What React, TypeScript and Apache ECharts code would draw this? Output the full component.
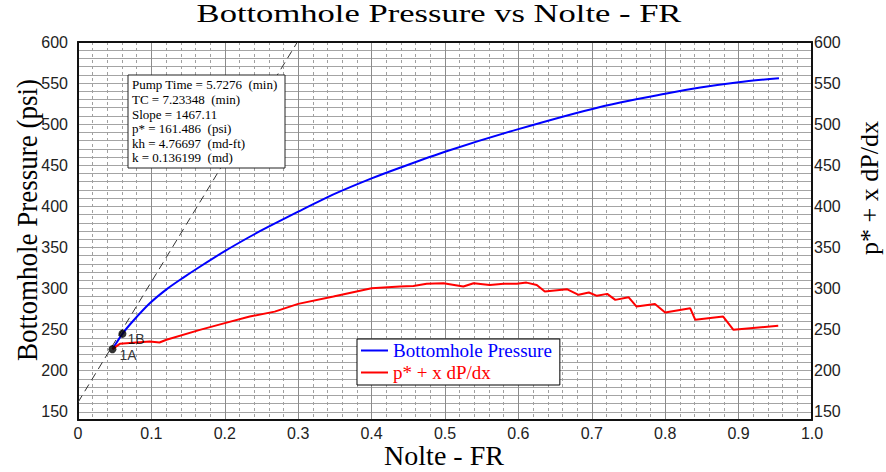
import React, { useEffect, useRef } from 'react';
import * as echarts from 'echarts';

// Bottomhole pressure vs Nolte - FR (blue)
const bhpX = [0.0469, 0.0605, 0.075, 0.0978, 0.1205, 0.143, 0.166, 0.2, 0.234, 0.257, 0.3, 0.348, 0.4, 0.4386, 0.5, 0.6, 0.7114, 0.8, 0.8477, 0.9, 0.955];
const bhpY = [226.2, 244.9, 260.5, 282, 299, 313, 326.5, 345.5, 363, 374, 393.5, 414.5, 434, 447, 466.5, 494, 521, 537, 544.5, 551, 556];

// p* + x dP/dx (red)
const derivX = [0.0469, 0.0569, 0.0978, 0.111, 0.1205, 0.166, 0.2, 0.234, 0.268, 0.3, 0.348, 0.4, 0.4386, 0.457, 0.475, 0.498, 0.525, 0.539, 0.561, 0.58, 0.598, 0.611, 0.625, 0.636, 0.666, 0.682, 0.696, 0.707, 0.721, 0.732, 0.75, 0.761, 0.786, 0.8, 0.834, 0.841, 0.879, 0.893, 0.954];
const derivY = [226.2, 232.7, 235.5, 234.3, 237.6, 249.7, 257.9, 265.9, 271.9, 281.3, 290.2, 300.4, 302.4, 303.2, 305.7, 306.5, 302.4, 306.5, 304.4, 305.7, 305.7, 307.2, 304.4, 296.3, 299.2, 292.3, 295.1, 291.1, 293.5, 286.2, 289.5, 278.0, 281.3, 270.7, 276.1, 261.9, 265.9, 249.7, 254.6];

// Markers
const markerNames = ['1A', '1B'];
const markerX = [0.0469, 0.0605];
const markerY = [226.2, 244.9];

// Straight line fit parameters (from the annotation)
const pStar = 161.486;
const slope = 1467.11;

// Tick labels
const xTickLabels = [0, 0.1, 0.2, 0.3, 0.4, 0.5, 0.6, 0.7, 0.8, 0.9, 1.0];
const yTickLabels = [150, 200, 250, 300, 350, 400, 450, 500, 550, 600];

const annotationLines = [
  'Pump Time = 5.7276  (min)',
  'TC = 7.23348  (min)',
  'Slope = 1467.11',
  'p* = 161.486  (psi)',
  'kh = 4.76697  (md-ft)',
  'k = 0.136199  (md)',
];

const SERIF = '"Liberation Serif", "Times New Roman", serif';
const SANS = '"Liberation Sans", Arial, sans-serif';

export default function App() {
  const ref = useRef<HTMLDivElement>(null);

  useEffect(() => {
    if (!ref.current) return;
    const chart = echarts.init(ref.current, undefined, { renderer: 'svg' });

    const yMax = 600;
    const lineEndX = (yMax - pStar) / slope;

    const yLabelFmt = (v: number) => (yTickLabels.indexOf(Math.round(v)) >= 0 && Math.abs(v - Math.round(v)) < 1e-6 ? String(Math.round(v)) : '');
    const xLabelFmt = (v: number) => {
      const hit = xTickLabels.find((t) => Math.abs(t - v) < 1e-6);
      if (hit === undefined) return '';
      return hit === 0 ? '0' : hit.toFixed(1);
    };

    const option: any = {
      animation: false,
      backgroundColor: '#ffffff',
      grid: { left: 78, top: 42, width: 734, height: 378, containLabel: false },
      legend: {
        show: true,
        orient: 'vertical',
        left: 357,
        top: 339,
        padding: [2, 8, 3, 4],
        itemGap: 3,
        itemWidth: 27,
        itemHeight: 2,
        icon: 'rect',
        borderColor: '#000',
        borderWidth: 1,
        backgroundColor: '#fff',
        z: 50,
        textStyle: { fontFamily: SERIF, fontSize: 19, lineHeight: 19, padding: [0, 0, 0, 0] },
        data: [
          { name: 'Bottomhole Pressure', textStyle: { color: '#0000ff' } },
          { name: 'p* + x dP/dx', textStyle: { color: '#ff0000' } },
        ],
      },
      xAxis: [
        {
          type: 'value',
          min: 0,
          max: 1,
          interval: 0.1,
          position: 'bottom',
          axisLine: { show: true, lineStyle: { color: '#111', width: 2 } },
          axisTick: { show: false },
          axisLabel: { formatter: xLabelFmt, fontFamily: SANS, fontSize: 16, color: '#222', margin: 5 },
          splitLine: { show: true, lineStyle: { color: '#8c8c8c', width: 1 } },
          minorTick: { show: false, splitNumber: 5 },
          minorSplitLine: { show: true, lineStyle: { color: '#a0a0a0', width: 1, type: [3, 3] } },
        },
        {
          type: 'value',
          min: 0,
          max: 1,
          interval: 0.1,
          position: 'top',
          axisLine: { show: true, onZero: false, lineStyle: { color: '#111', width: 2 } },
          axisTick: { show: false },
          axisLabel: { show: false },
          splitLine: { show: false },
        },
      ],
      yAxis: [
        {
          type: 'value',
          min: 140,
          max: 600,
          interval: 10,
          position: 'left',
          axisLine: { show: true, onZero: false, lineStyle: { color: '#111', width: 2 } },
          axisTick: { show: false },
          axisLabel: { formatter: yLabelFmt, fontFamily: SANS, fontSize: 16, color: '#222', margin: 10 },
          splitLine: { show: true, lineStyle: { color: '#a4a4a4', width: 1 } },
        },
        {
          type: 'value',
          min: 140,
          max: 600,
          interval: 10,
          position: 'right',
          axisLine: { show: true, onZero: false, lineStyle: { color: '#111', width: 2 } },
          axisTick: { show: false },
          axisLabel: { formatter: yLabelFmt, fontFamily: SANS, fontSize: 16, color: '#222', margin: 2 },
          splitLine: { show: false },
        },
      ],
      series: [
        {
          name: 'Slope Line',
          type: 'line',
          data: [[0, pStar], [lineEndX, yMax]],
          showSymbol: false,
          silent: true,
          z: 3,
          lineStyle: { color: '#333', width: 1, type: [8, 5] },
        },
        {
          name: 'Bottomhole Pressure',
          type: 'line',
          color: '#0000ff',
          data: bhpX.map((x, i) => [x, bhpY[i]]),
          showSymbol: false,
          smooth: 0.25,
          z: 4,
          itemStyle: { color: '#0000ff' },
          lineStyle: { color: '#0000ff', width: 2 },
        },
        {
          name: 'p* + x dP/dx',
          type: 'line',
          color: '#ff0000',
          yAxisIndex: 1,
          data: derivX.map((x, i) => [x, derivY[i]]),
          showSymbol: false,
          z: 4,
          itemStyle: { color: '#ff0000' },
          lineStyle: { color: '#ff0000', width: 2 },
        },
        {
          name: 'Markers',
          type: 'scatter',
          symbolSize: 8,
          z: 6,
          itemStyle: { color: '#000' },
          data: markerNames.map((n, i) => ({
            name: n,
            value: [markerX[i], markerY[i]],
            label: {
              show: true,
              formatter: n,
              position: 'right',
              distance: i === 0 ? 3 : 1,
              offset: [0, i === 0 ? 6 : 5],
              fontFamily: SANS,
              fontSize: 14,
              color: '#000',
            },
          })),
        },
      ],
      graphic: [
        {
          type: 'text',
          x: 439,
          y: 14,
          scaleX: 1.33,
          z: 100,
          style: {
            text: 'Bottomhole Pressure vs Nolte - FR',
            fontFamily: SERIF,
            fontSize: 26,
            fill: '#000',
            align: 'center',
            verticalAlign: 'middle',
          },
        },
        {
          type: 'text',
          x: 444,
          y: 455.5,
          z: 100,
          style: {
            text: 'Nolte - FR',
            fontFamily: SERIF,
            fontSize: 28,
            fill: '#000',
            align: 'center',
            verticalAlign: 'middle',
          },
        },
        {
          type: 'text',
          x: 26,
          y: 220,
          rotation: Math.PI / 2,
          scaleY: 1.12,
          z: 100,
          style: {
            text: 'Bottomhole Pressure (psi)',
            fontFamily: SERIF,
            fontSize: 27,
            fill: '#000',
            align: 'center',
            verticalAlign: 'middle',
          },
        },
        {
          type: 'text',
          x: 869,
          y: 188,
          rotation: Math.PI / 2,
          z: 100,
          style: {
            text: 'p* + x dP/dx',
            fontFamily: SERIF,
            fontSize: 26,
            fill: '#000',
            align: 'center',
            verticalAlign: 'middle',
          },
        },
        {
          type: 'group',
          z: 100,
          children: [
            {
              type: 'rect',
              z: 100,
              shape: { x: 128, y: 75, width: 157, height: 93 },
              style: { fill: '#fff', stroke: '#222', lineWidth: 1 },
            },
            {
              type: 'text',
              z: 101,
              x: 132,
              y: 77.5,
              style: {
                text: annotationLines.join('\n'),
                fontFamily: SERIF,
                fontSize: 13,
                lineHeight: 14.6,
                fill: '#000',
                align: 'left',
                verticalAlign: 'top',
              },
            },
          ],
        },
      ],
    };

    chart.setOption(option);
    return () => {
      chart.dispose();
    };
  }, []);

  return (
    <div
      ref={ref}
      style={{ position: 'absolute', left: 0, top: 0, width: 886, height: 472, background: '#fff' }}
    />
  );
}
